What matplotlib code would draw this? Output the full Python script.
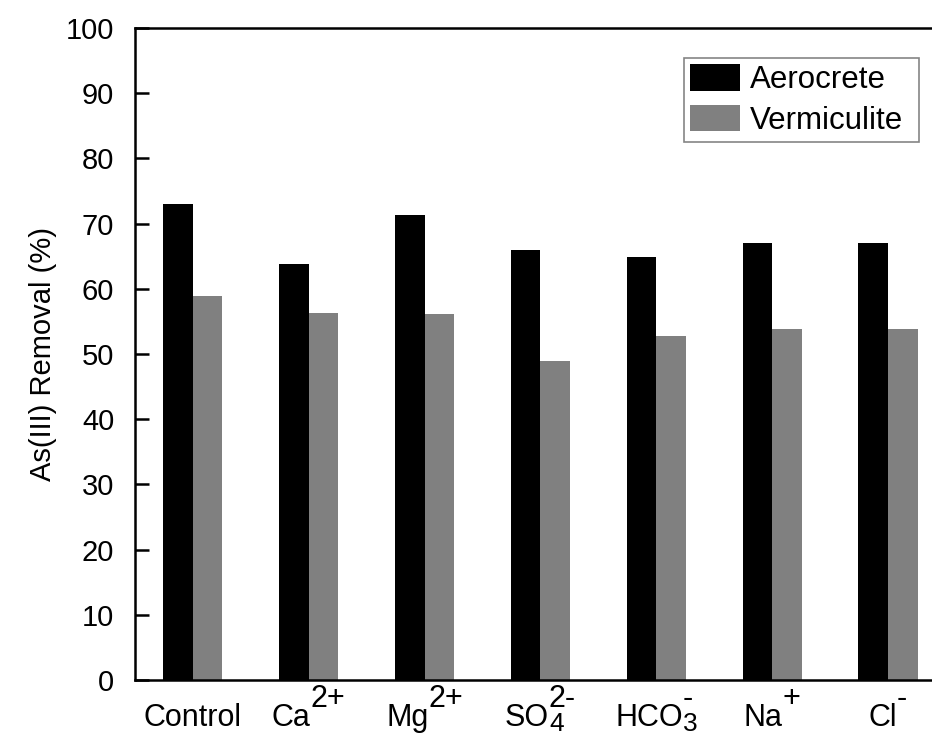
import matplotlib
matplotlib.use("Agg")
import matplotlib.pyplot as plt
import numpy as np

plt.rcParams['font.family'] = ['Liberation Sans', 'DejaVu Sans']

# Category labels split into base text, subscript and superscript parts
label_base = ['Control', 'Ca', 'Mg', 'SO', 'HCO', 'Na', 'Cl']
label_sub = ['', '', '', '4', '3', '', '']
label_sup = ['', '2+', '2+', '2-', '-', '+', '-']

aerocrete = [73.0, 63.8, 71.3, 66.0, 64.9, 67.0, 67.0]
vermiculite = [58.9, 56.3, 56.1, 48.9, 52.8, 53.8, 53.8]
y_ticks = [0, 10, 20, 30, 40, 50, 60, 70, 80, 90, 100]

fig = plt.figure(figsize=(9.32, 7.36), dpi=100)
ax = fig.add_axes([135 / 932, 1 - 680 / 736, 1 - 135 / 932, (680 - 28) / 736])

x = np.arange(1, len(label_base) + 1)
w = 0.255
ax.bar(x - w / 2, aerocrete, width=w, color='black', label='Aerocrete')
ax.bar(x + w / 2, vermiculite, width=w, color='#808080', label='Vermiculite')

ax.set_xlim(0.5, 7.38)
ax.set_ylim(0, 100)
ax.set_xticks(x)
ax.set_xticklabels([])
ax.set_yticks(y_ticks)
ax.set_yticklabels([str(t) for t in y_ticks], fontsize=21)
ax.tick_params(axis='x', length=0)
ax.tick_params(axis='y', direction='in', length=10, width=1.8, pad=15)
ax.set_ylabel('As(III) Removal (%)', fontsize=21, labelpad=6)

for s in ['left', 'top', 'bottom']:
    ax.spines[s].set_linewidth(1.8)
ax.spines['right'].set_visible(False)

leg = ax.legend(loc='upper left', bbox_to_anchor=(0.689, 0.5, 0.295, 0.454),
                mode='expand', fontsize=22.5, frameon=True, fancybox=False,
                edgecolor='#666666', handlelength=1.6, handleheight=0.93,
                handletextpad=0.3, borderpad=0.2, labelspacing=0.3, borderaxespad=0)
leg.get_frame().set_linewidth(1.2)

# Category labels with large scripts, centred under each group
fs = 22
fs_sub = 19
xy_coords = ('data', 'axes fraction')
fig.canvas.draw()
renderer = fig.canvas.get_renderer()
for xi, base, sub, sup in zip(x, label_base, label_sub, label_sup):
    tb = ax.annotate(base, xy=(xi, 0), xycoords=xy_coords, xytext=(0, -46),
                     textcoords='offset pixels', ha='left', va='baseline', fontsize=fs)
    parts = []
    if sup:
        parts.append(ax.annotate(sup, xy=(xi, 0), xycoords=xy_coords, xytext=(0, -27),
                                 textcoords='offset pixels', ha='left', va='baseline',
                                 fontsize=fs))
    if sub:
        parts.append(ax.annotate(sub, xy=(xi, 0), xycoords=xy_coords, xytext=(0, -51),
                                 textcoords='offset pixels', ha='left', va='baseline',
                                 fontsize=fs_sub))
    bw = tb.get_window_extent(renderer).width
    sw = max([p.get_window_extent(renderer).width for p in parts], default=0)
    left = -(bw + sw) / 2
    tb.set_position((left, -46))
    for p in parts:
        p.set_position((left + bw, p.get_position()[1]))

fig.savefig('out.png', dpi=100)
